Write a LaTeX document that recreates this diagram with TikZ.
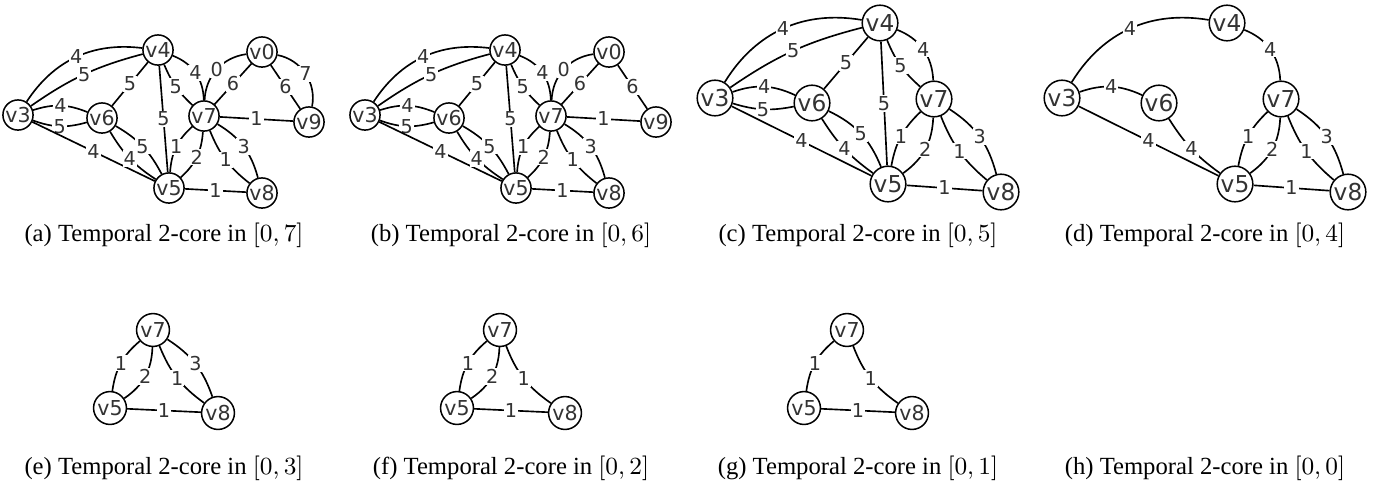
\documentclass[tikz,border=0pt]{standalone}
\usepackage[no-math]{fontspec}
\setmainfont{Liberation Serif}
\newfontfamily\dejavu{DejaVu Sans}
\usetikzlibrary{positioning}

\begin{document}
\begin{tikzpicture}[x=0.365pt, y=-0.365pt,
  vtx/.style={circle,draw,line width=0.55pt,fill=white,inner sep=0pt,minimum size=11pt,font={\dejavu\fontsize{7.5}{7.5}\selectfont},text=black!80},
  vtxbig/.style={vtx,minimum size=13pt,font={\dejavu\fontsize{8.5}{8.5}\selectfont}},
  vtxmid/.style={vtx,minimum size=12pt},
  lnk/.style={line width=0.6pt},
  elab/.style={fill=white,inner sep=0.4pt,font={\dejavu\fontsize{7}{7}\selectfont},text=black!80},
  subcap/.style={anchor=base,font={\fontsize{9}{11}\selectfont}}]
\useasboundingbox (0,0) rectangle (1385,483);

% (a) [0,7]
\node[vtx] (a4) at (158,50) {v4};
\node[vtx] (a0) at (262,52) {v0};
\node[vtx] (a3) at (18,115) {v3};
\node[vtx] (a6) at (102,118) {v6};
\node[vtx] (a7) at (204,116) {v7};
\node[vtx] (a9) at (309,122) {v9};
\node[vtx] (a5) at (169,188) {v5};
\node[vtx] (a8) at (262,193) {v8};
\draw[lnk] (a3) to[bend left=32] node[elab] {4} (a4);
\draw[lnk] (a3) to[bend left=10] node[elab] {5} (a4);
\draw[lnk] (a3) to[bend left=20] node[elab] {4} (a6);
\draw[lnk] (a3) to[bend right=18] node[elab] {5} (a6);
\draw[lnk] (a3) -- node[elab] {4} (a5);
\draw[lnk] (a4) -- node[elab] {5} (a6);
\draw[lnk] (a4) -- node[elab] {5} (a5);
\draw[lnk] (a4) to[bend left=34] node[elab] {4} (a7);
\draw[lnk] (a4) to[bend right=12] node[elab] {5} (a7);
\draw[lnk] (a6) to[bend right=13] node[elab] {4} (a5);
\draw[lnk] (a6) to[bend left=16] node[elab] {5} (a5);
\draw[lnk] (a7) to[bend left=40] node[elab] {0} (a0);
\draw[lnk] (a7) -- node[elab] {6} (a0);
\draw[lnk] (a0) to[bend left=45] node[elab] {7} (a9);
\draw[lnk] (a0) -- node[elab] {6} (a9);
\draw[lnk] (a7) -- node[elab] {1} (a9);
\draw[lnk] (a7) to[bend right=22] node[elab] {1} (a5);
\draw[lnk] (a7) to[bend left=22] node[elab] {2} (a5);
\draw[lnk] (a7) to[bend right=15] node[elab] {1} (a8);
\draw[lnk] (a7) to[bend left=22] node[elab] {3} (a8);
\draw[lnk] (a5) -- node[elab] {1} (a8);
\node[subcap] (capa) at (164,241) {(a) Temporal 2-core in $[0,7]$};

% (b) [0,6]
\node[vtx] (b4) at (505,50) {v4};
\node[vtx] (b0) at (609,52) {v0};
\node[vtx] (b3) at (365,115) {v3};
\node[vtx] (b6) at (449,118) {v6};
\node[vtx] (b7) at (551,116) {v7};
\node[vtx] (b9) at (656,122) {v9};
\node[vtx] (b5) at (516,188) {v5};
\node[vtx] (b8) at (609,193) {v8};
\draw[lnk] (b3) to[bend left=32] node[elab] {4} (b4);
\draw[lnk] (b3) to[bend left=10] node[elab] {5} (b4);
\draw[lnk] (b3) to[bend left=20] node[elab] {4} (b6);
\draw[lnk] (b3) to[bend right=18] node[elab] {5} (b6);
\draw[lnk] (b3) -- node[elab] {4} (b5);
\draw[lnk] (b4) -- node[elab] {5} (b6);
\draw[lnk] (b4) -- node[elab] {5} (b5);
\draw[lnk] (b4) to[bend left=34] node[elab] {4} (b7);
\draw[lnk] (b4) to[bend right=12] node[elab] {5} (b7);
\draw[lnk] (b6) to[bend right=13] node[elab] {4} (b5);
\draw[lnk] (b6) to[bend left=16] node[elab] {5} (b5);
\draw[lnk] (b7) to[bend left=40] node[elab] {0} (b0);
\draw[lnk] (b7) -- node[elab] {6} (b0);
\draw[lnk] (b0) -- node[elab] {6} (b9);
\draw[lnk] (b7) -- node[elab] {1} (b9);
\draw[lnk] (b7) to[bend right=22] node[elab] {1} (b5);
\draw[lnk] (b7) to[bend left=22] node[elab] {2} (b5);
\draw[lnk] (b7) to[bend right=15] node[elab] {1} (b8);
\draw[lnk] (b7) to[bend left=22] node[elab] {3} (b8);
\draw[lnk] (b5) -- node[elab] {1} (b8);
\node[subcap] (capb) at (511,241) {(b) Temporal 2-core in $[0,6]$};

% (c) [0,5]
\node[vtxbig] (c4) at (880,23) {v4};
\node[vtxbig] (c3) at (715,98) {v3};
\node[vtxbig] (c6) at (812,103) {v6};
\node[vtxbig] (c7) at (934,99) {v7};
\node[vtxbig] (c5) at (888,184) {v5};
\node[vtxbig] (c8) at (1001,192) {v8};
\draw[lnk] (c3) to[bend left=34] node[elab] {4} (c4);
\draw[lnk] (c3) to[bend left=10] node[elab] {5} (c4);
\draw[lnk] (c3) to[bend left=22] node[elab] {4} (c6);
\draw[lnk] (c3) to[bend right=14] node[elab] {5} (c6);
\draw[lnk] (c3) -- node[elab] {4} (c5);
\draw[lnk] (c4) -- node[elab] {5} (c6);
\draw[lnk] (c4) -- node[elab] {5} (c5);
\draw[lnk] (c4) to[bend left=33] node[elab] {4} (c7);
\draw[lnk] (c4) to[bend right=13] node[elab] {5} (c7);
\draw[lnk] (c6) to[bend right=11] node[elab] {4} (c5);
\draw[lnk] (c6) to[bend left=21] node[elab] {5} (c5);
\draw[lnk] (c7) to[bend right=18] node[elab] {1} (c5);
\draw[lnk] (c7) to[bend left=26] node[elab] {2} (c5);
\draw[lnk] (c7) to[bend right=14] node[elab] {1} (c8);
\draw[lnk] (c7) to[bend left=21] node[elab] {3} (c8);
\draw[lnk] (c5) -- node[elab] {1} (c8);
\node[subcap] (capc) at (858,241) {(c) Temporal 2-core in $[0,5]$};

% (d) [0,4]
\node[vtxbig] (d4) at (1227,23) {v4};
\node[vtxbig] (d3) at (1062,98) {v3};
\node[vtxbig] (d6) at (1159,103) {v6};
\node[vtxbig] (d7) at (1281,99) {v7};
\node[vtxbig] (d5) at (1235,184) {v5};
\node[vtxbig] (d8) at (1348,192) {v8};
\draw[lnk] (d3) to[bend left=34] node[elab] {4} (d4);
\draw[lnk] (d3) to[bend left=22] node[elab] {4} (d6);
\draw[lnk] (d3) -- node[elab] {4} (d5);
\draw[lnk] (d4) to[bend left=33] node[elab] {4} (d7);
\draw[lnk] (d6) to[bend right=11] node[elab] {4} (d5);
\draw[lnk] (d7) to[bend right=18] node[elab] {1} (d5);
\draw[lnk] (d7) to[bend left=26] node[elab] {2} (d5);
\draw[lnk] (d7) to[bend right=14] node[elab] {1} (d8);
\draw[lnk] (d7) to[bend left=21] node[elab] {3} (d8);
\draw[lnk] (d5) -- node[elab] {1} (d8);
\node[subcap] (capd) at (1205,241) {(d) Temporal 2-core in $[0,4]$};

% (e) [0,3]
\node[vtxmid] (e7) at (153,330) {v7};
\node[vtxmid] (e5) at (110,408) {v5};
\node[vtxmid] (e8) at (218,413) {v8};
\draw[lnk] (e7) to[bend right=21] node[elab] {1} (e5);
\draw[lnk] (e7) to[bend left=27] node[elab] {2} (e5);
\draw[lnk] (e7) to[bend right=16] node[elab] {1} (e8);
\draw[lnk] (e7) to[bend left=19] node[elab] {3} (e8);
\draw[lnk] (e5) -- node[elab] {1} (e8);
\node[subcap] (cape) at (164,474) {(e) Temporal 2-core in $[0,3]$};

% (f) [0,2]
\node[vtxmid] (f7) at (500,330) {v7};
\node[vtxmid] (f5) at (457,408) {v5};
\node[vtxmid] (f8) at (565,413) {v8};
\draw[lnk] (f7) to[bend right=21] node[elab] {1} (f5);
\draw[lnk] (f7) to[bend left=27] node[elab] {2} (f5);
\draw[lnk] (f7) to[bend right=17] node[elab] {1} (f8);
\draw[lnk] (f5) -- node[elab] {1} (f8);
\node[subcap] (capf) at (511,474) {(f) Temporal 2-core in $[0,2]$};

% (g) [0,1]
\node[vtxmid] (g7) at (847,330) {v7};
\node[vtxmid] (g5) at (804,408) {v5};
\node[vtxmid] (g8) at (912,413) {v8};
\draw[lnk] (g7) to[bend right=21] node[elab] {1} (g5);
\draw[lnk] (g7) to[bend right=17] node[elab] {1} (g8);
\draw[lnk] (g5) -- node[elab] {1} (g8);
\node[subcap] (capg) at (858,474) {(g) Temporal 2-core in $[0,1]$};

% (h) [0,0] -- empty core
\node[subcap] (caph) at (1205,474) {(h) Temporal 2-core in $[0,0]$};
\end{tikzpicture}
\end{document}
